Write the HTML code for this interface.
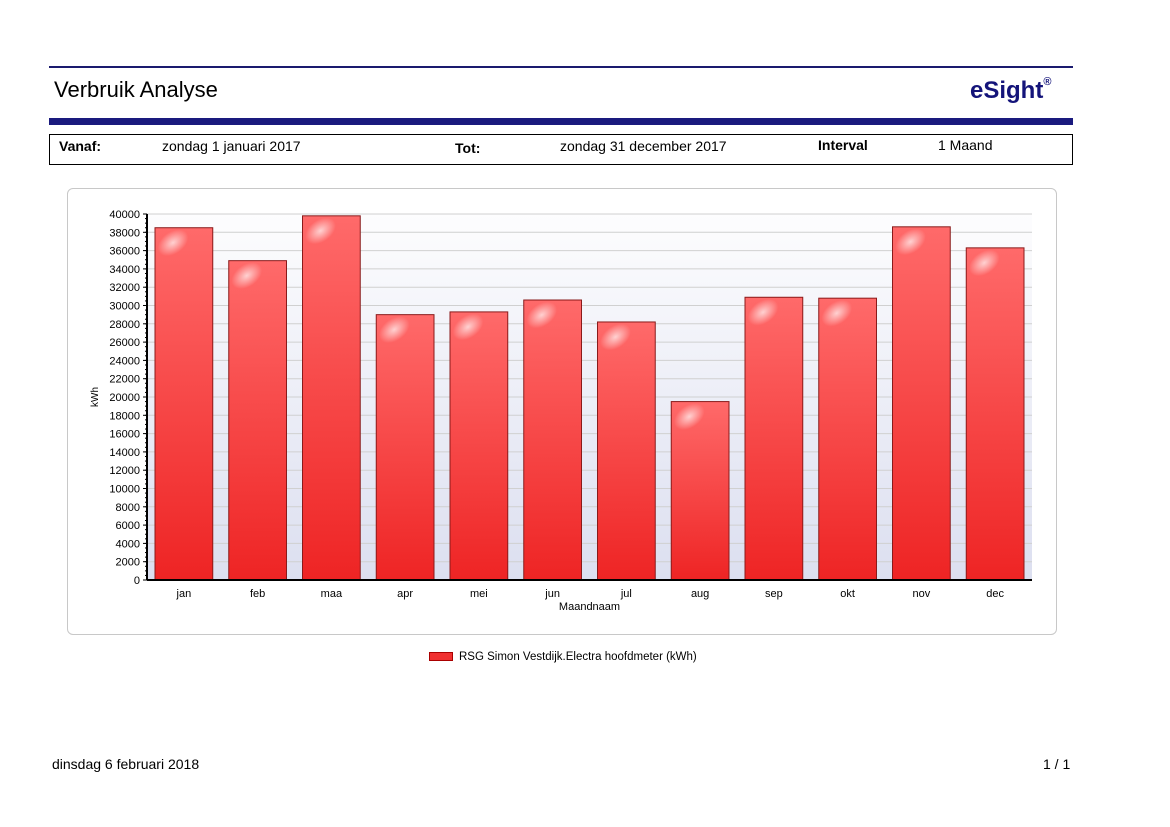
<!DOCTYPE html>
<html><head><meta charset="utf-8"><style>
body{margin:0;width:1170px;height:827px;background:#fff;font-family:"Liberation Sans",sans-serif;position:relative;overflow:hidden}
.a{position:absolute}
</style></head><body>
<div class="a" style="left:49px;top:66px;width:1024px;height:2px;background:#1a1a6e"></div>
<div class="a" style="left:54px;top:77px;font-size:22px;color:#000">Verbruik Analyse</div>
<div class="a" style="left:970px;top:77px;font-size:24px;font-weight:bold;color:#14147a">eSight<sup style="font-size:11px;position:relative;top:-4px">®</sup></div>
<div class="a" style="left:49px;top:118px;width:1024px;height:7px;background:#1a1a7e"></div>
<div class="a" style="left:49px;top:134px;width:1022px;height:29px;border:1px solid #000;font-size:14px">
 <span class="a" style="left:9px;top:3px;font-weight:bold">Vanaf:</span>
 <span class="a" style="left:112px;top:3px">zondag 1 januari 2017</span>
 <span class="a" style="left:405px;top:5px;font-weight:bold">Tot:</span>
 <span class="a" style="left:510px;top:3px">zondag 31 december 2017</span>
 <span class="a" style="left:768px;top:2px;font-weight:bold">Interval</span>
 <span class="a" style="left:888px;top:2px">1 Maand</span>
</div>
<div class="a" style="left:67px;top:188px;width:988px;height:445px;border:1px solid #c8c8c8;border-radius:6px"></div>
<svg class="a" style="left:0;top:0" width="1170" height="827">
<defs>
<linearGradient id="bg" x1="0" y1="0" x2="0" y2="1"><stop offset="0" stop-color="#fdfdfe"/><stop offset="1" stop-color="#dcdff0"/></linearGradient>
<linearGradient id="bar" x1="0" y1="0" x2="0" y2="1"><stop offset="0" stop-color="#ff6a6a"/><stop offset="1" stop-color="#ee2424"/></linearGradient>
<radialGradient id="gl"><stop offset="0" stop-color="#fff" stop-opacity="0.7"/><stop offset="1" stop-color="#fff" stop-opacity="0"/></radialGradient>
</defs>
<g id="g"></g>
</svg>
<div class="a" style="left:429px;top:651px;font-size:11.5px;color:#000">
 <span style="display:inline-block;width:22px;height:7px;background:#f03030;border:1px solid #a00;vertical-align:middle;margin-right:6px"></span><span>RSG Simon Vestdijk.Electra hoofdmeter (kWh)</span>
</div>
<div class="a" style="left:52px;top:756px;font-size:14px">dinsdag 6 februari 2018</div>
<div class="a" style="left:1043px;top:756px;font-size:14px">1 / 1</div>
<script>
const categories=["jan","feb","maa","apr","mei","jun","jul","aug","sep","okt","nov","dec"];
const values=[38500,34900,39800,29000,29300,30600,28200,19500,30900,30800,38600,36300];
const yTicks=[0,2000,4000,6000,8000,10000,12000,14000,16000,18000,20000,22000,24000,26000,28000,30000,32000,34000,36000,38000,40000];
const NS="http://www.w3.org/2000/svg",g=document.getElementById('g');
const x0=147,x1=1032,y0=580,y1=214,yMax=40000;
const y=v=>y0-(v/yMax)*(y0-y1);
const band=(x1-x0)/categories.length;
const xb=i=>x0+i*band;
function mk(t,a,p){const e=document.createElementNS(NS,t);for(const k in a)e.setAttribute(k,a[k]);(p||g).appendChild(e);return e;}
let e=mk('rect',{x:x0,y:y1,width:x1-x0,height:y0-y1,fill:'url(#bg)'});


yTicks.forEach(v=>{
 if(v>0){e=mk('line',{x1:x0,x2:x1,y1:y(v),y2:y(v),stroke:'#d0d0d0','stroke-width':1});
 
 }
 e=mk('text',{x:x0-7,y:y(v)+4,'text-anchor':'end','font-size':11,'font-family':'Liberation Sans'});e.textContent=v;
 
 
 mk('line',{x1:x0-4,x2:x0,y1:y(v),y2:y(v),stroke:'#000'});
});
for(let v=500;v<yMax;v+=500)mk('line',{x1:x0-2,x2:x0,y1:y(v),y2:y(v),stroke:'#000'});
categories.forEach((c,i)=>{
 const bx=xb(i)+8,bw=band-16,by=y(values[i]);
 e=mk('rect',{x:bx,y:by,width:bw,height:y0-by,fill:'url(#bar)',stroke:'#8a1a1a','stroke-width':1});
 
 
 mk('ellipse',{cx:bx+18,cy:by+15,rx:17,ry:11,fill:'url(#gl)',transform:`rotate(-35 ${bx+18} ${by+15})`});
 e=mk('text',{x:xb(i)+band/2,y:y0+17,'text-anchor':'middle','font-size':11,'font-family':'Liberation Sans'});e.textContent=c;
 
 
});
mk('line',{x1:x0,x2:x0,y1:y1,y2:y0,stroke:'#000','stroke-width':2});
mk('line',{x1:x0,x2:x1,y1:y0,y2:y0,stroke:'#000','stroke-width':2});
e=mk('text',{x:(x0+x1)/2,y:610,'text-anchor':'middle','font-size':11,'font-family':'Liberation Sans'});e.textContent='Maandnaam';


e=mk('text',{x:98,y:397,'text-anchor':'middle','font-size':10,'font-family':'Liberation Sans',transform:'rotate(-90 98 397)'});e.textContent='kWh';


</script>
</body></html>
